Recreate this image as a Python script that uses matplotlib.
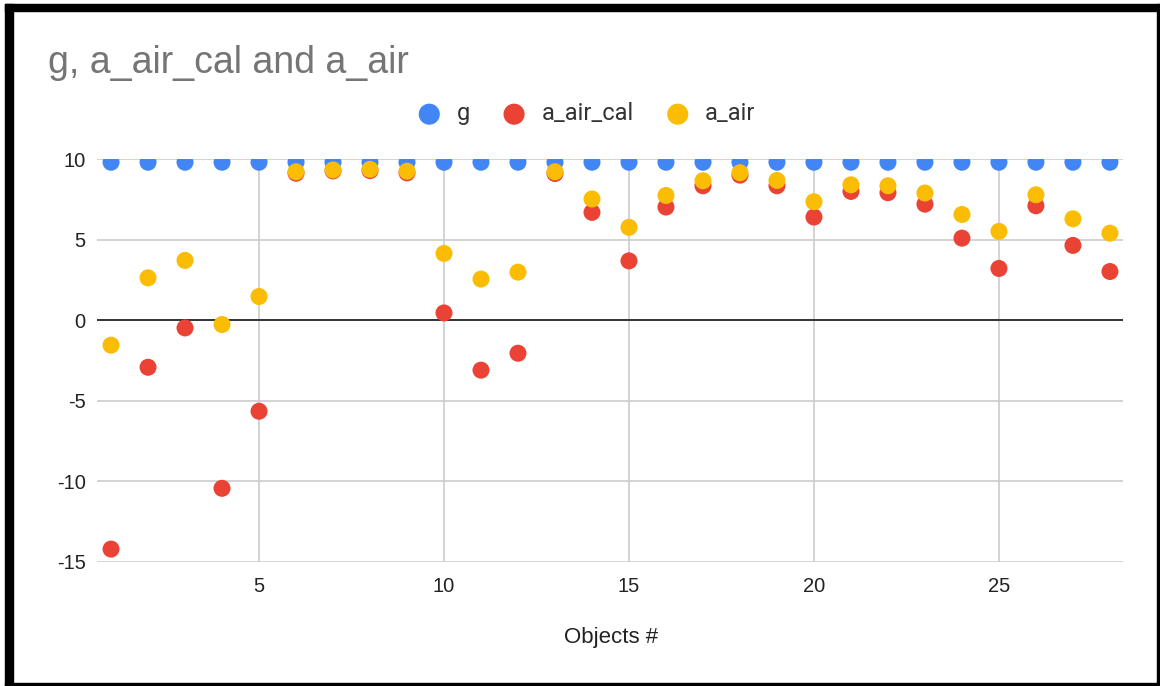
import numpy as np
import matplotlib
matplotlib.use("Agg")
import matplotlib.pyplot as plt
from matplotlib.patches import Rectangle

plt.rcParams["axes.unicode_minus"] = False

# object numbers and measured values
objects = list(range(1, 29))
g = [9.8] * 28
a_air_cal = [-14.2, -2.92, -0.48, -10.43, -5.65, 9.12, 9.26, 9.28, 9.14, 0.45,
             -3.1, -2.05, 9.1, 6.69, 3.68, 7.02, 8.34, 9.0, 8.34, 6.4,
             7.99, 7.91, 7.2, 5.09, 3.21, 7.1, 4.64, 3.02]
a_air = [-1.55, 2.63, 3.71, -0.27, 1.47, 9.21, 9.32, 9.36, 9.24, 4.14,
         2.55, 2.98, 9.21, 7.52, 5.76, 7.74, 8.65, 9.15, 8.67, 7.35,
         8.4, 8.34, 7.89, 6.56, 5.51, 7.78, 6.29, 5.4]

series = [("g", g, "#4285F4"), ("a_air_cal", a_air_cal, "#EA4335"), ("a_air", a_air, "#FBBC04")]

fig = plt.figure(figsize=(11.6, 6.86), dpi=100)
ax = fig.add_axes([0.0836, 0.1808, 0.8844, 0.5874])

for name, vals, col in series:
    ax.scatter(objects, vals, s=150, color=col, edgecolors="none", zorder=3, label=name)

ax.set_xlim(0.62, 28.35)
ax.set_ylim(-15, 10)
ax.set_xticks([5, 10, 15, 20, 25])
ax.set_yticks([-15, -10, -5, 0, 5, 10])
ax.grid(True, color="#cccccc", linewidth=1.2)
ax.set_axisbelow(True)
ax.axhline(0, color="#333333", linewidth=1.4, zorder=2)
for s in ax.spines.values():
    s.set_visible(False)
ax.tick_params(length=0, labelsize=14.5, colors="#222222")
ax.tick_params(axis="y", pad=8)
ax.tick_params(axis="x", pad=11)
for lab in ax.get_xticklabels() + ax.get_yticklabels():
    lab.set_fontfamily("Liberation Sans")
ax.set_xlabel("Objects #", fontsize=16, fontfamily="Liberation Sans", color="#222222", va="center")
ax.xaxis.set_label_coords(0.501, -0.1886)

fig.text(0.0414, 0.8936, "g, a_air_cal and a_air", fontsize=27, fontfamily="Liberation Sans",
         color="#757575", va="baseline", ha="left")

leg = fig.legend(loc="center", bbox_to_anchor=(0.5005, 0.834), ncol=3, frameon=False,
                 markerscale=1.24, handlelength=2.0, handletextpad=0.16, columnspacing=0.87,
                 prop={"family": "Roboto", "size": 17})
for t in leg.get_texts():
    t.set_color("#333333")

# black frame around the picture
W, H = 1160, 686
for (x0, y0, w, h) in [(5, 4, 8, 682), (5, 4, 1155, 7), (1157, 4, 3, 682), (5, 683, 1155, 3)]:
    fig.patches.append(Rectangle((x0 / W, 1 - (y0 + h) / H), w / W, h / H,
                                 transform=fig.transFigure, color="black", zorder=10))

fig.savefig("out.png", dpi=100)
